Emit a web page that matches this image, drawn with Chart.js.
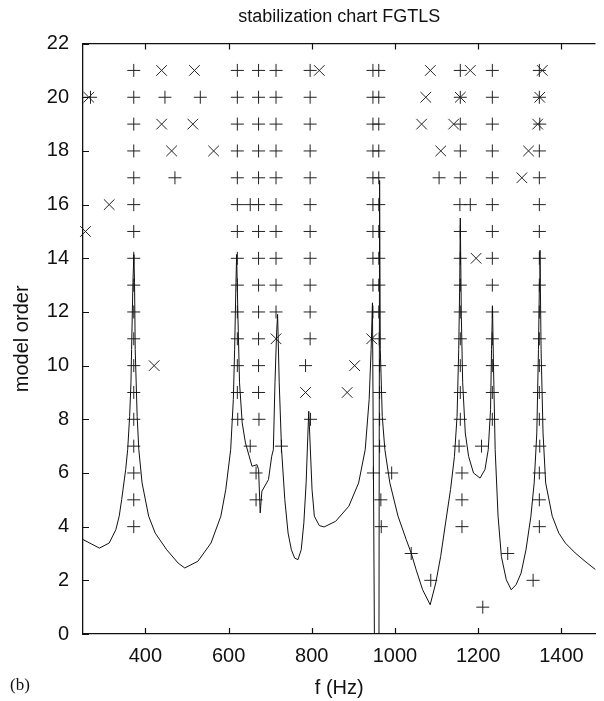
<!DOCTYPE html>
<html>
<head>
<meta charset="utf-8">
<script src="https://cdn.jsdelivr.net/npm/chart.js@4.4.1/dist/chart.umd.min.js"></script>
<style>
  html, body { margin: 0; padding: 0; background: #fff; }
  #wrap { width: 604px; height: 701px; position: relative; }
</style>
</head>
<body>
<div id="wrap"><canvas id="chartCanvas"></canvas></div>
<script>
// FRF trace (scaled to the model order axis), split at the deep notch near 955 Hz
const curveFreqLow = [250, 289.5, 313, 329, 337, 343, 352.6, 357.4, 362.1, 365.3, 366.8, 370, 372.3, 373.9, 375.5, 380.2, 384.2, 392, 407.8, 423.6, 451.2, 478.8, 494.6, 526.2, 557.7, 581.4, 593.2, 605, 611.4, 614.5, 617.7, 619.3, 622.4, 626.3, 632.7, 640.5, 656.3, 668.2, 672.1, 676, 680, 695.8, 703.6, 707.6, 711.5, 715.4, 717.8, 721.7, 727.3, 735.1, 743, 750.9, 758.8, 766.7, 774.6, 780.9, 786.4, 790.4, 792.7, 795.9, 800.6, 806.1, 818, 829.8, 857.4, 889, 912.6, 928.4, 937.9, 942.6, 945.8, 950.5];
const curveLevelLow = [3.52, 3.2, 3.39, 3.89, 4.39, 5.01, 6.13, 6.87, 8.11, 9.36, 10.6, 13.09, 14.14, 13.09, 10.6, 8.11, 6.87, 5.63, 4.39, 3.76, 3.14, 2.64, 2.46, 2.71, 3.39, 4.39, 5.38, 6.87, 8.74, 10.6, 13.09, 14.14, 11.84, 9.36, 7.87, 7.12, 6.25, 6.31, 6.13, 4.51, 5.32, 5.75, 6.62, 6.87, 9.36, 11.22, 11.91, 9.36, 6.87, 5.01, 3.76, 3.14, 2.83, 2.77, 3.14, 4.14, 5.63, 7.37, 8.3, 7.12, 5.38, 4.39, 4.04, 3.99, 4.2, 4.76, 5.63, 6.87, 8.74, 10.6, 12.34, 0];
const curveFreqHigh = [961.5, 963, 964.7, 969.4, 975.7, 987.6, 1007.3, 1027, 1038.8, 1050.7, 1066.4, 1084.6, 1098, 1109.8, 1121.6, 1133.5, 1142.9, 1149.2, 1153.2, 1155.6, 1157, 1159.5, 1162.7, 1169, 1176.9, 1188.7, 1204.5, 1216.3, 1224.2, 1229.7, 1232.1, 1234.4, 1236.8, 1240.8, 1247.8, 1255.7, 1267.6, 1279.4, 1291.2, 1303.1, 1314.9, 1326.7, 1334.6, 1340.9, 1344.9, 1347.2, 1348.5, 1351.2, 1355.9, 1362.2, 1378, 1393.8, 1409.5, 1433.2, 1456.9, 1482];
const curveLevelHigh = [0, 16.9, 10.6, 8.11, 6.87, 5.63, 4.39, 3.52, 3.02, 2.4, 1.65, 1.09, 1.9, 2.89, 4.14, 5.38, 6.62, 8.11, 10.6, 13.09, 15.5, 11.84, 9.36, 7.49, 6.62, 6.0, 5.81, 6.13, 6.87, 8.36, 10.6, 12.22, 9.98, 6.87, 4.39, 2.89, 2.02, 1.65, 1.84, 2.27, 3.14, 4.39, 5.63, 7.49, 10.6, 13.09, 14.3, 10.6, 7.49, 5.63, 4.39, 3.76, 3.39, 3.02, 2.71, 2.4];

// stable poles (+) per model order 1..21
const stableFreqs = [
  [1211],
  [1086, 1332],
  [1039, 1271],
  [372, 967, 1161, 1347],
  [372, 666, 966, 1161, 1347],
  [372, 666, 948, 992, 1161, 1347],
  [372, 652, 727, 963, 1154, 1208, 1348],
  [372, 622, 673, 797, 963, 1157, 1234, 1347],
  [372, 621, 672, 963, 1157, 1234, 1347],
  [372, 621, 672, 785, 963, 1157, 1234, 1347],
  [372, 621, 672, 796, 962, 1157, 1234, 1347],
  [372, 621, 672, 714, 796, 947, 961, 1157, 1234, 1347],
  [372, 621, 672, 714, 796, 947, 961, 1157, 1234, 1347],
  [372, 621, 672, 714, 796, 947, 961, 1157, 1234, 1347],
  [372, 621, 672, 714, 796, 947, 961, 1157, 1234, 1347],
  [372, 621, 652, 672, 714, 796, 947, 961, 1156, 1181, 1234, 1347],
  [372, 471, 621, 672, 714, 796, 947, 961, 1106, 1157, 1234, 1347],
  [372, 621, 672, 714, 796, 947, 961, 1157, 1234, 1347],
  [372, 621, 672, 714, 796, 947, 961, 1157, 1234, 1348],
  [268, 372, 447, 532, 621, 672, 714, 796, 947, 961, 1157, 1234, 1347],
  [372, 621, 672, 714, 796, 947, 961, 1157, 1234, 1347]
];

// unstable poles (x) per model order 1..21
const unstableFreqs = [
  [], [], [], [], [], [], [], [],
  [785, 885],
  [421, 903],
  [714, 944],
  [], [],
  [1195],
  [256],
  [313],
  [1305],
  [463, 564, 1110, 1321],
  [439, 514, 1064, 1141, 1343],
  [264, 1074, 1157, 1348],
  [439, 518, 818, 1085, 1181, 1354]
];

const xTickValues = [400, 600, 800, 1000, 1200, 1400];
const yTickValues = [0, 2, 4, 6, 8, 10, 12, 14, 16, 18, 20, 22];

const FONT = '"Liberation Sans", Arial, Helvetica, sans-serif';
const INK = '#111';

function toPoints(list) {
  const pts = [];
  list.forEach((freqs, i) => {
    freqs.forEach(f => pts.push({ x: f, y: i + 1 }));
  });
  return pts;
}

function curveSet(freqs, levels) {
  return {
    type: 'line',
    data: freqs.map((f, i) => ({ x: f, y: levels[i] })),
    borderColor: INK,
    borderWidth: 1,
    borderJoinStyle: 'round',
    pointRadius: 0,
    tension: 0,
    fill: false
  };
}

// keep everything drawn by the datasets above the bottom axis
const bottomClip = {
  id: 'bottomClip',
  beforeDatasetsDraw(chart) {
    const { ctx, chartArea } = chart;
    ctx.save();
    ctx.beginPath();
    ctx.rect(chartArea.left - 12, chartArea.top - 12,
      chartArea.right - chartArea.left + 24, chartArea.bottom - chartArea.top + 12);
    ctx.clip();
  },
  afterDatasetsDraw(chart) {
    chart.ctx.restore();
  }
};

// frame top line, inward ticks and the panel letter
const framePlugin = {
  id: 'frame',
  afterDraw(chart) {
    const { ctx, chartArea, scales } = chart;
    ctx.save();
    ctx.strokeStyle = INK;
    ctx.lineWidth = 1.2;
    ctx.beginPath();
    ctx.moveTo(chartArea.left, chartArea.top);
    ctx.lineTo(chartArea.right, chartArea.top);
    xTickValues.forEach(v => {
      const px = Math.round(scales.x.getPixelForValue(v)) + 0.5;
      ctx.moveTo(px, chartArea.bottom);
      ctx.lineTo(px, chartArea.bottom - 6);
      ctx.moveTo(px, chartArea.top);
      ctx.lineTo(px, chartArea.top + 6);
    });
    yTickValues.forEach(v => {
      const py = Math.round(scales.y.getPixelForValue(v)) + 0.5;
      ctx.moveTo(chartArea.left, py);
      ctx.lineTo(chartArea.left + 6, py);
    });
    ctx.stroke();
    ctx.fillStyle = INK;
    ctx.font = '17px "Liberation Serif", "Times New Roman", serif';
    ctx.textBaseline = 'middle';
    ctx.fillText('(b)', 10, 686);
    ctx.restore();
  }
};

const ctx = document.getElementById('chartCanvas').getContext('2d');
new Chart(ctx, {
  type: 'scatter',
  data: {
    datasets: [
      curveSet(curveFreqLow, curveLevelLow),
      curveSet(curveFreqHigh, curveLevelHigh),
      {
        label: 'stable',
        data: toPoints(stableFreqs),
        pointStyle: 'cross',
        pointRadius: 6.5,
        borderColor: '#222',
        borderWidth: 1,
        clip: false
      },
      {
        label: 'unstable',
        data: toPoints(unstableFreqs),
        pointStyle: 'crossRot',
        pointRadius: 7.5,
        borderColor: '#222',
        borderWidth: 1,
        clip: false
      }
    ]
  },
  options: {
    responsive: true,
    maintainAspectRatio: false,
    animation: false,
    layout: { padding: 0 },
    plugins: {
      legend: { display: false },
      tooltip: { enabled: false },
      title: {
        display: true,
        text: 'stabilization chart FGTLS',
        fullSize: false,
        color: INK,
        font: { family: FONT, size: 18, weight: 'normal' },
        padding: { top: 6, bottom: 16 }
      }
    },
    scales: {
      x: {
        type: 'linear',
        min: 250,
        max: 1482,
        afterBuildTicks(scale) { scale.ticks = xTickValues.map(v => ({ value: v })); },
        afterFit(scale) { scale.height = 67; },
        grid: { display: false },
        border: { display: true, color: INK, width: 1.3 },
        ticks: { color: INK, padding: 2, font: { family: FONT, size: 20 }, callback: v => String(v) },
        title: {
          display: true,
          text: 'f (Hz)',
          color: INK,
          font: { family: FONT, size: 20 },
          padding: { top: 0, bottom: 1 }
        }
      },
      y: {
        type: 'linear',
        min: 0,
        max: 22,
        afterBuildTicks(scale) { scale.ticks = yTickValues.map(v => ({ value: v })); },
        afterFit(scale) { scale.width = 83; },
        grid: { display: false },
        border: { display: true, color: INK, width: 1.3 },
        ticks: { color: INK, padding: 6, font: { family: FONT, size: 20 }, callback: v => String(v) },
        title: {
          display: true,
          text: 'model order',
          color: INK,
          font: { family: FONT, size: 20 },
          padding: { top: 10, bottom: 0 }
        }
      }
    }
  },
  plugins: [bottomClip, framePlugin]
});
</script>
</body>
</html>
